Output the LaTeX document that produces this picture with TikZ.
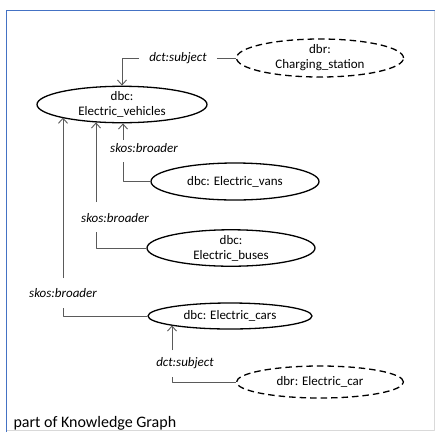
\documentclass[tikz,border=0pt]{standalone}
\usepackage{fontspec}
\setmainfont{Carlito}
\usetikzlibrary{shapes.geometric, arrows.meta}
\definecolor{frameblue}{RGB}{68,114,196}
\definecolor{linegray}{RGB}{90,90,90}
\tikzset{
  concept/.style={ellipse, draw, line width=1.3pt, inner sep=0pt, align=center, font=\fontsize{13}{15}\selectfont},
  resource/.style={concept, dash pattern=on 6.5pt off 4pt},
  relation/.style={font=\fontsize{13}{15}\selectfont\itshape, inner xsep=10pt, inner ysep=2pt},
  link/.style={draw=linegray, line width=0.9pt}
}
\begin{document}
\begin{tikzpicture}[x=1pt, y=-1pt, line join = round, >={Straight Barb[length=5pt, width=9pt]}]
\useasboundingbox (0,0) rectangle (436,432);
%Khung
\draw[frameblue, thick] (6.5,432) -- (6.5,10.5) -- (434.5,10.5);
\draw[black!15] (434.5,10.5) -- (434.5,430.5) -- (6.5,430.5);
%Các nút
\node[concept, minimum width=170, minimum height=35] (veh) at (122,104.5) {dbc:\\Electric\_vehicles};
\node[resource, minimum width=167, minimum height=38] (chg) at (320,58) {dbr:\\Charging\_station};
\node[concept, minimum width=168, minimum height=37] (vans) at (235,181.5) {dbc: Electric\_vans};
\node[concept, minimum width=168, minimum height=36] (buses) at (231,248) {dbc:\\Electric\_buses};
\node[concept, minimum width=164, minimum height=26] (cars) at (230,316) {dbc: Electric\_cars};
\node[resource, minimum width=167, minimum height=32] (ecar) at (320,382) {dbr: Electric\_car};
%Nhãn quan hệ
\node[relation] (dctA) at (178,58) {dct:subject};
\node[relation] (brA) at (144,148) {skos:broader};
\node[relation] (brB) at (115,218) {skos:broader};
\node[relation] (brC) at (63,293) {skos:broader};
\node[relation] (dctB) at (185,363) {dct:subject};
\node[anchor=west, font=\fontsize{16}{18}\selectfont] (cap) at (10,423) {part of Knowledge Graph};
%Điểm gãy của các đường nối
\coordinate (vansUp) at (123,162);   \coordinate (vansTop) at (123,140);
\coordinate (busUp) at (96,232);     \coordinate (busTop) at (96,202);
\coordinate (carUp) at (63,308);     \coordinate (carTop) at (63,278);
\coordinate (ecUp) at (172,377);     \coordinate (ecTop) at (172,350);
%Đường nối
\draw[link, ->] (dctA.west) -| (veh.north);
\draw[link] (dctA.east) -- (chg.west);
\draw[link] (vans.west) -| (vansUp);
\draw[link, ->] (vansTop) -- (vansTop |- veh.south);
\draw[link] (buses.west) -| (busUp);
\draw[link, ->] (busTop) -- (busTop |- veh.213);
\draw[link] (cars.west) -| (carUp);
\draw[link, ->] (carTop) -- (carTop |- veh.192);
\draw[link] (ecar.west) -| (ecUp);
\draw[link, ->] (ecTop) -- (ecTop |- cars.189);
\end{tikzpicture}
\end{document}
